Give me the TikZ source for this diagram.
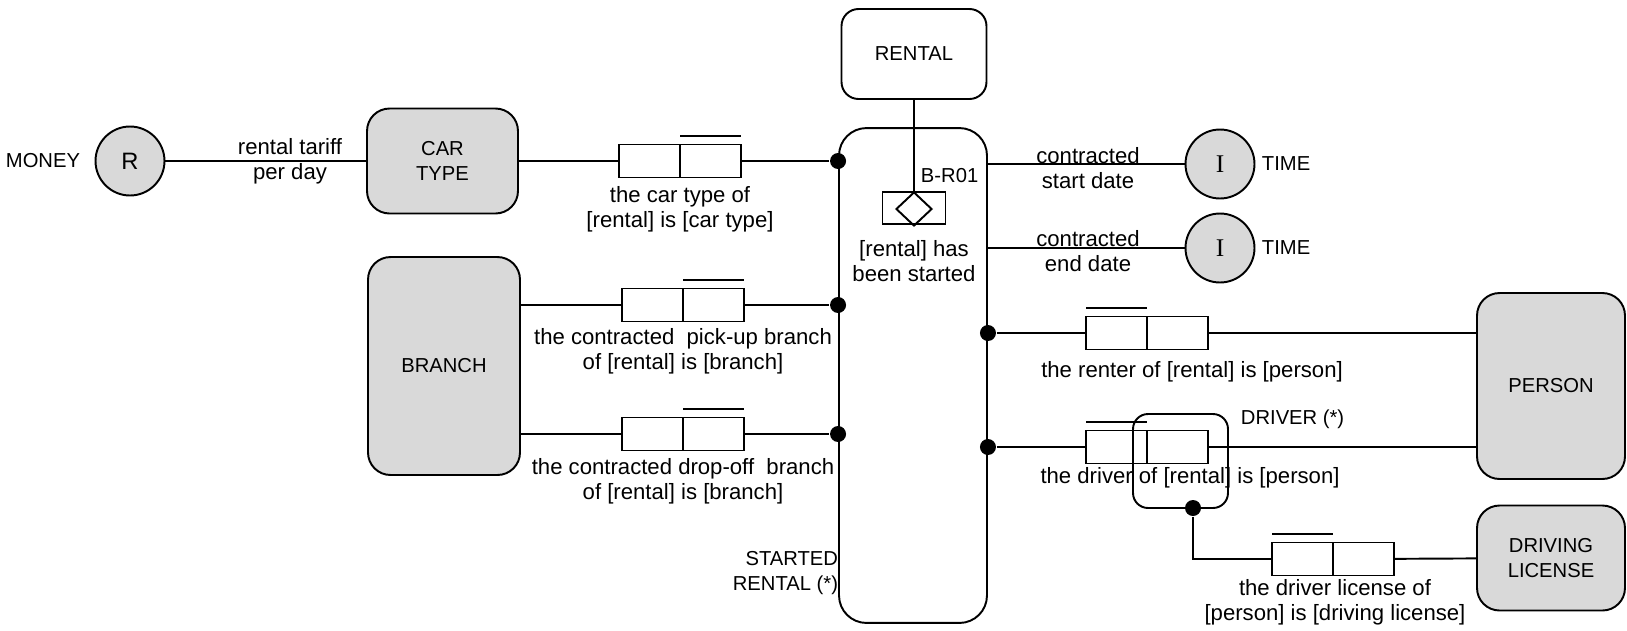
\documentclass[tikz,border=0pt]{standalone}
\usepackage{fontspec}
\setmainfont{Liberation Sans}
\newfontfamily\romanI{Liberation Serif}
\usepackage{tikz}
\usetikzlibrary{positioning,shapes.geometric}
\definecolor{entfill}{HTML}{D9D9D9}

\begin{document}
\begin{tikzpicture}[
    x=0.02cm,y=-0.02cm,
    line width=1.1pt,
    font=\fontsize{12.6}{14.2}\selectfont,
    caps/.style={font=\fontsize{11.5}{14.2}\selectfont},
    ent/.style={draw,rounded corners=0.45cm,align=center,fill=entfill,inner sep=0pt,caps},
    obj/.style={draw,rounded corners=0.55cm,fill=white,inner sep=0pt,caps},
    val/.style={draw,circle,fill=entfill,minimum size=1.38cm,inner sep=0pt,font=\fontsize{13.5}{16}\selectfont},
    role/.style={draw,minimum width=1.22cm,minimum height=0.66cm,inner sep=0pt,outer sep=0pt},
    nest/.style={draw,rounded corners=0.3cm,minimum width=1.9cm,minimum height=1.88cm,inner sep=0pt},
    dot/.style={circle,fill,inner sep=0pt,minimum size=0.32cm},
    lbl/.style={align=center,inner sep=0pt}
  ]
    \useasboundingbox (0,0) rectangle (1627,630);
    % object types
    \node[val] (money) at (130,161) {R};
    \node[lbl,caps,anchor=east] (moneyl) at (81,161) {MONEY};
    \node[ent,minimum width=3.02cm,minimum height=2.1cm] (cartype) at (442.5,161) {CAR\\TYPE};
    \node[ent,minimum width=3.04cm,minimum height=4.36cm] (branch) at (444,366) {BRANCH};
    \node[obj,rounded corners=0.34cm,minimum width=2.9cm,minimum height=1.8cm] (rental) at (914,54) {RENTAL};
    \node[obj,minimum width=2.96cm,minimum height=9.9cm] (started) at (913,375.5) {};
    \node[val,font=\romanI\fontsize{14.5}{16}\selectfont] (tm1) at (1220,164) {I};
    \node[val,font=\romanI\fontsize{14.5}{16}\selectfont] (tm2) at (1220,248) {I};
    \node[lbl,caps,anchor=west] (tml1) at (1261,164) {TIME};
    \node[lbl,caps,anchor=west] (tml2) at (1261,248) {TIME};
    \node[ent,minimum width=2.96cm,minimum height=3.72cm] (person) at (1551,386) {PERSON};
    \node[ent,minimum width=2.96cm,minimum height=2.1cm] (dlic) at (1551,558) {DRIVING\\LICENSE};

    % subtype rule
    \node[draw,minimum width=1.26cm,minimum height=0.64cm,inner sep=0pt] (rule) at (914,208) {};
    \node[draw,diamond,minimum width=0.72cm,minimum height=0.68cm,inner sep=0pt] (rulesym) at (914,209) {};
    \node[lbl,caps,anchor=west] (rulel) at (920,176) {B-R01};
    \node[lbl] (rulet) at (914,261) {[rental] has\\been started};
    \node[lbl,caps,align=right,anchor=east] (startedl) at (839,573) {STARTED\\RENTAL (*)};
    \draw (rental) -- (rule);

    % fact types
    \node[role] (ct1) at (649.5,161) {};
    \node[role,right=0pt of ct1] (ct2) {};
    \node[role] (pu1) at (652.5,305) {};
    \node[role,right=0pt of pu1] (pu2) {};
    \node[role] (do1) at (652.5,434) {};
    \node[role,right=0pt of do1] (do2) {};
    \node[role] (re1) at (1116.5,333) {};
    \node[role,right=0pt of re1] (re2) {};
    \node[role] (dr1) at (1116.5,447) {};
    \node[role,right=0pt of dr1] (dr2) {};
    \node[role] (dl1) at (1302.5,559) {};
    \node[role,right=0pt of dl1] (dl2) {};
    \foreach \r in {ct2,pu2,do2,re1,dr1,dl1}
      \draw ([yshift=0.17cm]\r.north west) -- ([yshift=0.17cm]\r.north east);

    \node[nest] (drv) at (1180.5,461) {};
    \node[lbl,caps,anchor=west] (drvl) at (1240,419) {DRIVER (*)};

    % dots
    \node[dot] (d1) at (started.west |- ct2) {};
    \node[dot] (d2) at (started.west |- pu2) {};
    \node[dot] (d3) at (started.west |- do2) {};
    \node[dot] (d4) at (started.east |- re1) {};
    \node[dot] (d5) at (started.east |- dr1) {};
    \node[dot] (d6) at (1193,508) {};

    % labels
    \node[lbl] (tariffl) at (290,161.5) {rental tariff\\per day};
    \node[lbl] (ctl) at (680,209.5) {the car type of\\{[rental]} is [car type]};
    \node[lbl] (pul) at (683,351.5) {the contracted\ \ pick-up branch\\of [rental] is [branch]};
    \node[lbl] (dol) at (683,481.5) {the contracted drop-off\ \ branch\\of [rental] is [branch]};
    \node[lbl] (sdl) at (1088,168.5) {contracted\\start date};
    \node[lbl] (edl) at (1088,251) {contracted\\end date};
    \node[lbl] (rel) at (1192,372) {the renter of [rental] is [person]};
    \node[lbl] (drl) at (1190,478) {the driver of [rental] is [person]};
    \node[lbl] (dll) at (1335,602.5) {the driver license of\\{[person]} is [driving license]};

    % connectors
    \draw (money) -- (cartype);
    \draw (cartype) -- (ct1);
    \draw (ct2) -- (d1);
    \draw (branch.east |- pu1) -- (pu1);
    \draw (pu2) -- (d2);
    \draw (branch.east |- do1) -- (do1);
    \draw (do2) -- (d3);
    \draw (started.east |- tm1) -- (tm1);
    \draw (started.east |- tm2) -- (tm2);
    \draw (d4) -- (re1);
    \draw (re2) -- (re2 -| person.west);
    \draw (d5) -- (dr1);
    \draw (dr2) -- (dr2 -| person.west);
    \draw (d6) |- (dl1);
    \draw (dl2) -- (dlic);
  \end{tikzpicture}
\end{document}
